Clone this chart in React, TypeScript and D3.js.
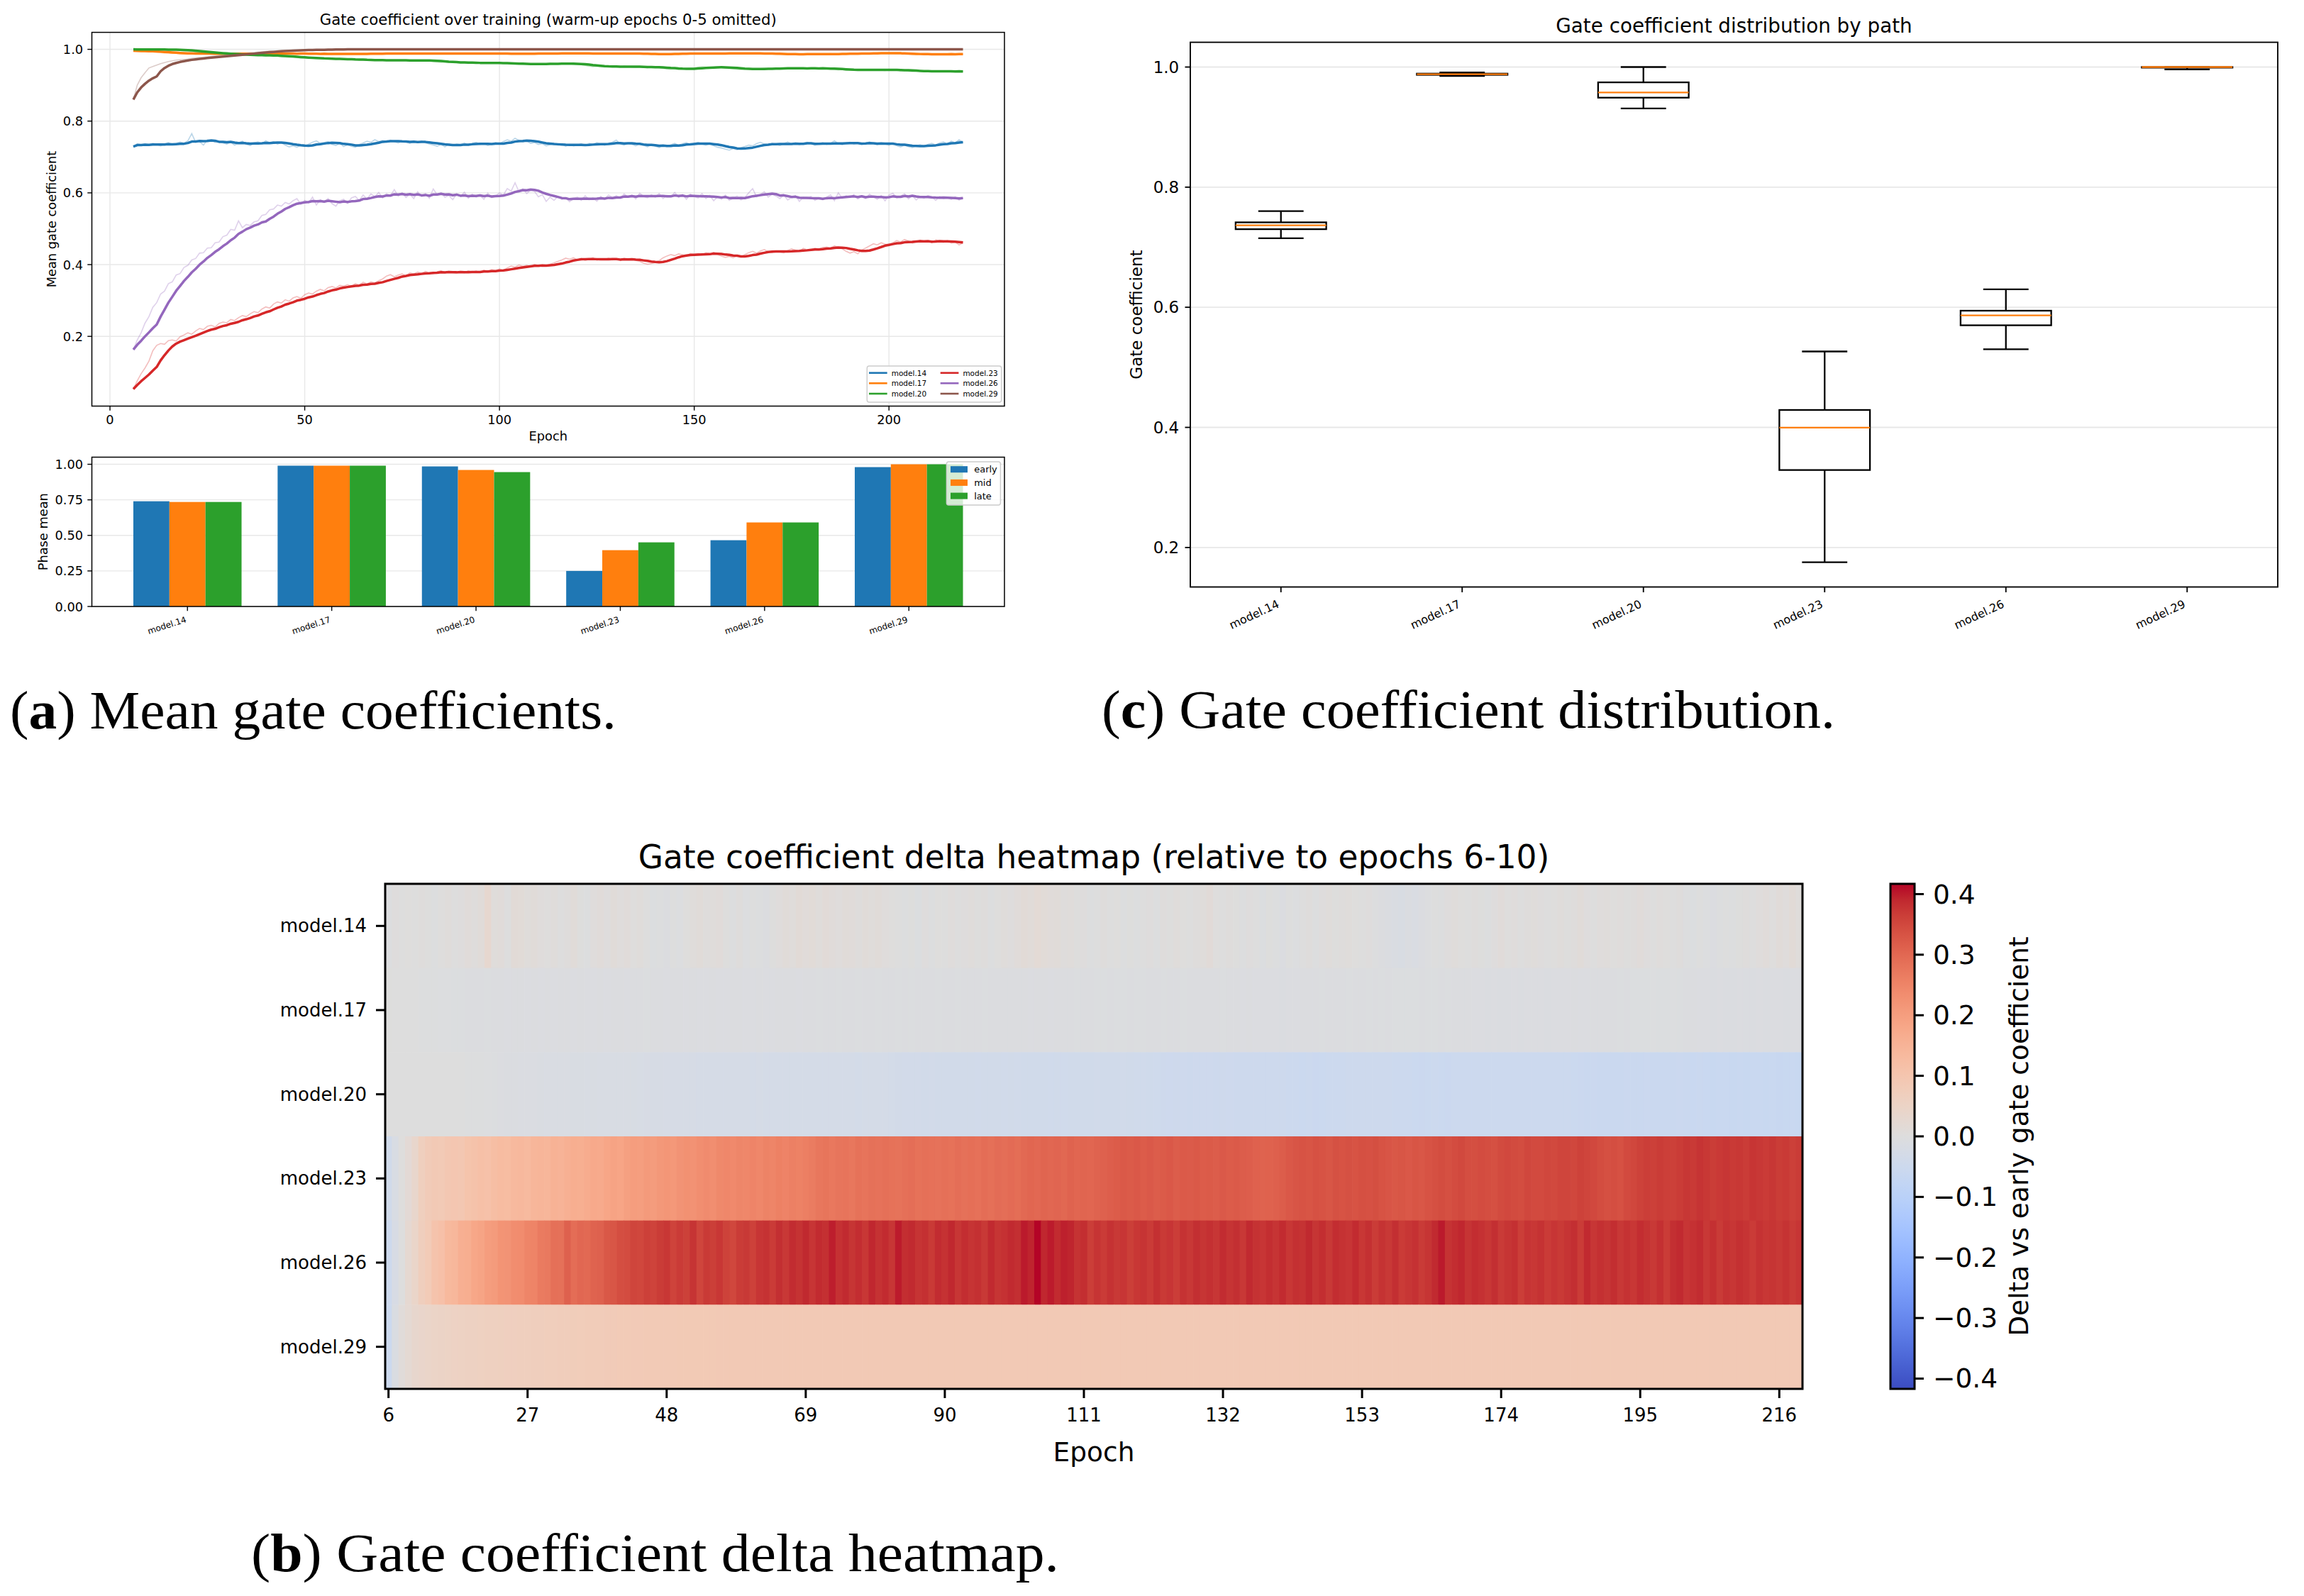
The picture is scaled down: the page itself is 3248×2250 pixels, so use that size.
import React from 'react';
import * as d3 from 'd3';

const FONT = 'DejaVu Sans';
const MODELS = ['model.14', 'model.17', 'model.20', 'model.23', 'model.26', 'model.29'];
const FIRST_EPOCH = 6;
const SMOOTH_WINDOW = 7;
const BASELINE_EPOCHS = 5;

// Raw per-epoch mean gate coefficient, epochs 6..219
const M14 = [
  0.729, 0.737, 0.734, 0.736,
  0.733, 0.738, 0.735, 0.731, 0.736, 0.740, 0.734, 0.737, 0.742, 0.738,
  0.745, 0.765, 0.741, 0.743, 0.733, 0.748, 0.746, 0.741, 0.744, 0.739,
  0.736, 0.741, 0.733, 0.738, 0.744, 0.735, 0.732, 0.739, 0.742, 0.737,
  0.745, 0.739, 0.743, 0.736, 0.740, 0.733, 0.728, 0.731, 0.727, 0.733,
  0.729, 0.736, 0.741, 0.745, 0.738, 0.740, 0.743, 0.735, 0.732, 0.738,
  0.729, 0.734, 0.730, 0.727, 0.735, 0.739, 0.744, 0.741, 0.748, 0.743,
  0.746, 0.741, 0.747, 0.743, 0.739, 0.745, 0.742, 0.738, 0.744, 0.740,
  0.745, 0.739, 0.736, 0.733, 0.730, 0.735, 0.728, 0.737, 0.732, 0.736,
  0.734, 0.739, 0.733, 0.737, 0.741, 0.735, 0.738, 0.732, 0.736, 0.740,
  0.737, 0.743, 0.748, 0.744, 0.752, 0.746, 0.742, 0.745, 0.738, 0.740,
  0.735, 0.737, 0.731, 0.734, 0.738, 0.733, 0.736, 0.730, 0.735, 0.731,
  0.733, 0.737, 0.732, 0.738, 0.735, 0.740, 0.736, 0.733, 0.738, 0.741,
  0.747, 0.736, 0.733, 0.738, 0.735, 0.731, 0.737, 0.733, 0.728, 0.735,
  0.730, 0.726, 0.733, 0.729, 0.734, 0.738, 0.732, 0.737, 0.740, 0.735,
  0.738, 0.741, 0.736, 0.733, 0.737, 0.731, 0.727, 0.725, 0.722, 0.719,
  0.724, 0.720, 0.726, 0.729, 0.733, 0.731, 0.737, 0.741, 0.736, 0.733,
  0.738, 0.735, 0.732, 0.737, 0.742, 0.736, 0.739, 0.734, 0.738, 0.741,
  0.737, 0.733, 0.736, 0.740, 0.735, 0.738, 0.745, 0.737, 0.734, 0.739,
  0.741, 0.736, 0.739, 0.735, 0.738, 0.742, 0.737, 0.734, 0.739, 0.736,
  0.733, 0.738, 0.731, 0.728, 0.733, 0.729, 0.726, 0.731, 0.734, 0.730,
  0.735, 0.738, 0.733, 0.739, 0.742, 0.736, 0.744, 0.739, 0.748, 0.741,
];
const M17 = [
  0.996, 0.995, 0.995, 0.994,
  0.994, 0.993, 0.992, 0.991, 0.990, 0.990, 0.989, 0.989, 0.988, 0.988,
  0.988, 0.989, 0.988, 0.988, 0.987, 0.988, 0.988, 0.987, 0.988, 0.987,
  0.988, 0.987, 0.988, 0.988, 0.987, 0.988, 0.987, 0.987, 0.988, 0.987,
  0.988, 0.988, 0.987, 0.988, 0.988, 0.989, 0.988, 0.988, 0.987, 0.988,
  0.988, 0.987, 0.988, 0.987, 0.987, 0.988, 0.987, 0.987, 0.988, 0.988,
  0.987, 0.987, 0.988, 0.987, 0.987, 0.988, 0.988, 0.988, 0.987, 0.988,
  0.988, 0.989, 0.988, 0.988, 0.989, 0.988, 0.988, 0.989, 0.988, 0.988,
  0.989, 0.988, 0.988, 0.989, 0.988, 0.989, 0.988, 0.988, 0.988, 0.989,
  0.988, 0.988, 0.989, 0.988, 0.988, 0.988, 0.989, 0.988, 0.988, 0.988,
  0.988, 0.988, 0.988, 0.987, 0.988, 0.988, 0.987, 0.988, 0.988, 0.988,
  0.989, 0.988, 0.988, 0.989, 0.989, 0.988, 0.989, 0.989, 0.988, 0.989,
  0.989, 0.988, 0.988, 0.989, 0.988, 0.988, 0.989, 0.988, 0.988, 0.988,
  0.988, 0.988, 0.989, 0.988, 0.988, 0.987, 0.988, 0.987, 0.987, 0.987,
  0.987, 0.986, 0.987, 0.987, 0.988, 0.988, 0.988, 0.989, 0.988, 0.988,
  0.988, 0.989, 0.988, 0.988, 0.989, 0.988, 0.989, 0.988, 0.989, 0.989,
  0.989, 0.989, 0.988, 0.989, 0.989, 0.988, 0.989, 0.988, 0.988, 0.988,
  0.987, 0.987, 0.986, 0.987, 0.986, 0.986, 0.987, 0.986, 0.987, 0.987,
  0.987, 0.986, 0.987, 0.987, 0.987, 0.988, 0.987, 0.987, 0.988, 0.988,
  0.988, 0.988, 0.989, 0.988, 0.989, 0.989, 0.989, 0.990, 0.989, 0.989,
  0.990, 0.989, 0.988, 0.988, 0.987, 0.987, 0.986, 0.987, 0.986, 0.986,
  0.987, 0.986, 0.986, 0.987, 0.986, 0.987, 0.987, 0.986, 0.987, 0.987,
];
const M20 = [
  1.000, 0.999, 1.000, 0.999,
  0.999, 1.000, 0.999, 1.000, 0.999, 0.999, 0.998, 0.998, 0.997, 0.996,
  0.996, 0.995, 0.993, 0.992, 0.991, 0.990, 0.989, 0.989, 0.988, 0.987,
  0.986, 0.986, 0.985, 0.985, 0.984, 0.984, 0.983, 0.984, 0.983, 0.983,
  0.982, 0.983, 0.982, 0.981, 0.980, 0.979, 0.978, 0.978, 0.977, 0.976,
  0.976, 0.975, 0.975, 0.974, 0.974, 0.973, 0.974, 0.973, 0.972, 0.973,
  0.972, 0.971, 0.972, 0.970, 0.971, 0.970, 0.969, 0.970, 0.969, 0.970,
  0.970, 0.969, 0.970, 0.969, 0.969, 0.970, 0.969, 0.968, 0.969, 0.969,
  0.970, 0.969, 0.968, 0.966, 0.965, 0.964, 0.965, 0.963, 0.964, 0.963,
  0.962, 0.963, 0.962, 0.963, 0.962, 0.961, 0.962, 0.963, 0.962, 0.961,
  0.962, 0.961, 0.960, 0.959, 0.960, 0.959, 0.958, 0.959, 0.958, 0.959,
  0.960, 0.959, 0.960, 0.961, 0.960, 0.959, 0.960, 0.961, 0.960, 0.958,
  0.958, 0.957, 0.955, 0.953, 0.952, 0.953, 0.952, 0.951, 0.952, 0.952,
  0.952, 0.951, 0.953, 0.952, 0.951, 0.950, 0.951, 0.950, 0.949, 0.951,
  0.950, 0.949, 0.947, 0.946, 0.945, 0.946, 0.944, 0.945, 0.946, 0.947,
  0.948, 0.950, 0.951, 0.950, 0.949, 0.950, 0.951, 0.949, 0.948, 0.947,
  0.946, 0.945, 0.944, 0.945, 0.946, 0.945, 0.944, 0.946, 0.947, 0.946,
  0.947, 0.948, 0.947, 0.946, 0.948, 0.947, 0.946, 0.947, 0.948, 0.946,
  0.947, 0.948, 0.946, 0.947, 0.946, 0.945, 0.944, 0.943, 0.944, 0.942,
  0.943, 0.942, 0.943, 0.944, 0.942, 0.943, 0.944, 0.943, 0.942, 0.941,
  0.943, 0.944, 0.943, 0.940, 0.941, 0.939, 0.938, 0.939, 0.940, 0.938,
  0.939, 0.938, 0.940, 0.939, 0.938, 0.939, 0.937, 0.938, 0.939, 0.938,
];
const M23 = [
  0.053, 0.076, 0.096, 0.112,
  0.131, 0.160, 0.175, 0.180, 0.178, 0.188, 0.190, 0.187, 0.199, 0.204,
  0.210, 0.206, 0.215, 0.222, 0.219, 0.228, 0.231, 0.226, 0.236, 0.240,
  0.238, 0.247, 0.244, 0.252, 0.258, 0.255, 0.263, 0.269, 0.266, 0.276,
  0.282, 0.279, 0.290, 0.296, 0.293, 0.302, 0.298, 0.307, 0.311, 0.306,
  0.316, 0.321, 0.318, 0.326, 0.331, 0.327, 0.336, 0.339, 0.335, 0.342,
  0.340, 0.344, 0.339, 0.347, 0.343, 0.351, 0.346, 0.352, 0.349, 0.355,
  0.360, 0.368, 0.372, 0.366, 0.371, 0.374, 0.368, 0.377, 0.374, 0.379,
  0.376, 0.381, 0.377, 0.375, 0.380, 0.383, 0.377, 0.381, 0.378, 0.376,
  0.380, 0.377, 0.383, 0.379, 0.382, 0.378, 0.385, 0.381, 0.386, 0.383,
  0.388, 0.384, 0.391, 0.396, 0.393, 0.399, 0.395, 0.398, 0.394, 0.401,
  0.397, 0.399, 0.396, 0.401, 0.405, 0.409, 0.413, 0.418, 0.415, 0.419,
  0.413, 0.417, 0.411, 0.415, 0.419, 0.412, 0.416, 0.414, 0.418, 0.413,
  0.415, 0.411, 0.417, 0.413, 0.416, 0.412, 0.409, 0.404, 0.401, 0.403,
  0.406, 0.411, 0.419, 0.424, 0.428, 0.425, 0.430, 0.427, 0.423, 0.431,
  0.428, 0.431, 0.427, 0.433, 0.430, 0.434, 0.428, 0.424, 0.420, 0.423,
  0.419, 0.425, 0.421, 0.428, 0.433, 0.437, 0.432, 0.438, 0.442, 0.436,
  0.434, 0.438, 0.435, 0.433, 0.439, 0.444, 0.440, 0.437, 0.445, 0.441,
  0.441, 0.446, 0.443, 0.448, 0.449, 0.446, 0.452, 0.448, 0.444, 0.437,
  0.432, 0.436, 0.430, 0.441, 0.446, 0.452, 0.458, 0.455, 0.461, 0.457,
  0.456, 0.461, 0.467, 0.463, 0.470, 0.466, 0.460, 0.464, 0.468, 0.463,
  0.466, 0.461, 0.469, 0.465, 0.462, 0.467, 0.460, 0.463, 0.455, 0.461,
];
const M26 = [
  0.163, 0.190, 0.210, 0.237,
  0.255, 0.281, 0.294, 0.318, 0.326, 0.347, 0.352, 0.371, 0.375, 0.392,
  0.398, 0.413, 0.417, 0.432, 0.433, 0.446, 0.447, 0.461, 0.463, 0.478,
  0.482, 0.498, 0.496, 0.522, 0.503, 0.512, 0.509, 0.519, 0.522, 0.537,
  0.540, 0.553, 0.555, 0.566, 0.563, 0.573, 0.569, 0.578, 0.584, 0.568,
  0.579, 0.572, 0.588, 0.566, 0.581, 0.575, 0.584, 0.570, 0.563, 0.578,
  0.582, 0.571, 0.586, 0.590, 0.579, 0.594, 0.583, 0.597, 0.589, 0.601,
  0.586, 0.598, 0.592, 0.609, 0.591, 0.600, 0.587, 0.596, 0.584, 0.603,
  0.590, 0.598, 0.585, 0.611, 0.595, 0.600, 0.588, 0.593, 0.581, 0.597,
  0.590, 0.602, 0.585, 0.596, 0.588, 0.593, 0.582, 0.599, 0.587, 0.591,
  0.600, 0.594, 0.612, 0.605, 0.628, 0.603, 0.611, 0.598, 0.608, 0.604,
  0.589, 0.595, 0.576, 0.588, 0.579, 0.590, 0.582, 0.586, 0.575, 0.584,
  0.588, 0.579, 0.592, 0.581, 0.586, 0.577, 0.590, 0.583, 0.594, 0.587,
  0.592, 0.585, 0.597, 0.588, 0.594, 0.583, 0.599, 0.590, 0.586, 0.595,
  0.588, 0.598, 0.584, 0.593, 0.589, 0.601, 0.587, 0.595, 0.582, 0.596,
  0.590, 0.586, 0.598, 0.584, 0.593, 0.578, 0.589, 0.582, 0.594, 0.579,
  0.585, 0.591, 0.580, 0.587, 0.600, 0.612, 0.589, 0.596, 0.603, 0.588,
  0.596, 0.591, 0.584, 0.594, 0.580, 0.587, 0.592, 0.576, 0.588, 0.584,
  0.590, 0.579, 0.586, 0.581, 0.588, 0.594, 0.578, 0.600, 0.585, 0.592,
  0.587, 0.595, 0.583, 0.590, 0.584, 0.596, 0.589, 0.582, 0.593, 0.578,
  0.594, 0.599, 0.586, 0.591, 0.597, 0.583, 0.592, 0.580, 0.590, 0.585,
  0.593, 0.588, 0.579, 0.590, 0.584, 0.587, 0.582, 0.589, 0.580, 0.586,
];
const M29 = [
  0.860, 0.900, 0.921, 0.935,
  0.948, 0.952, 0.956, 0.960, 0.963, 0.966, 0.968, 0.970, 0.971, 0.972,
  0.973, 0.975, 0.976, 0.977, 0.978, 0.979, 0.980, 0.981, 0.982, 0.983,
  0.984, 0.985, 0.986, 0.987, 0.988, 0.989, 0.990, 0.991, 0.992, 0.993,
  0.994, 0.995, 0.995, 0.996, 0.996, 0.997, 0.997, 0.998, 0.998, 0.998,
  0.999, 0.999, 0.999, 0.999, 0.999, 0.999, 1.000, 1.000, 1.000, 1.000,
  1.000, 1.000, 1.000, 1.000, 1.000, 1.000, 1.000, 1.000, 1.000, 1.000,
  1.000, 1.000, 1.000, 1.000, 1.000, 1.000, 1.000, 1.000, 1.000, 1.000,
  1.000, 1.000, 1.000, 1.000, 1.000, 1.000, 1.000, 1.000, 1.000, 1.000,
  1.000, 1.000, 1.000, 1.000, 1.000, 1.000, 1.000, 1.000, 1.000, 1.000,
  1.000, 1.000, 1.000, 1.000, 1.000, 1.000, 1.000, 1.000, 1.000, 1.000,
  1.000, 1.000, 1.000, 1.000, 1.000, 1.000, 1.000, 1.000, 1.000, 1.000,
  1.000, 1.000, 1.000, 1.000, 1.000, 1.000, 1.000, 1.000, 1.000, 1.000,
  1.000, 1.000, 1.000, 1.000, 1.000, 1.000, 1.000, 1.000, 1.000, 1.000,
  1.000, 1.000, 1.000, 1.000, 1.000, 1.000, 1.000, 1.000, 1.000, 1.000,
  1.000, 1.000, 1.000, 1.000, 1.000, 1.000, 1.000, 1.000, 1.000, 1.000,
  1.000, 1.000, 1.000, 1.000, 1.000, 1.000, 1.000, 1.000, 1.000, 1.000,
  1.000, 1.000, 1.000, 1.000, 1.000, 1.000, 1.000, 1.000, 1.000, 1.000,
  1.000, 1.000, 1.000, 1.000, 1.000, 1.000, 1.000, 1.000, 1.000, 1.000,
  1.000, 1.000, 1.000, 1.000, 1.000, 1.000, 1.000, 1.000, 1.000, 1.000,
  1.000, 1.000, 1.000, 1.000, 1.000, 1.000, 1.000, 1.000, 1.000, 1.000,
  1.000, 1.000, 1.000, 1.000, 1.000, 1.000, 1.000, 1.000, 1.000, 1.000,
];
const SERIES = [M14, M17, M20, M23, M26, M29];
const COLORS = ['#1f77b4', '#ff7f0e', '#2ca02c', '#d62728', '#9467bd', '#8c564b'];

// Phase means (bar chart)
const PHASES = ['early', 'mid', 'late'];
const PHASE_COLORS = ['#1f77b4', '#ff7f0e', '#2ca02c'];
const PHASE_EARLY = [0.740, 0.990, 0.985, 0.250, 0.466, 0.980];
const PHASE_MID = [0.735, 0.990, 0.960, 0.396, 0.591, 1.000];
const PHASE_LATE = [0.735, 0.990, 0.945, 0.451, 0.591, 1.000];

// Box plot statistics
const BOX_LO = [0.715, 0.985, 0.931, 0.1755, 0.530, 0.996];
const BOX_Q1 = [0.730, 0.987, 0.949, 0.329, 0.570, 0.999];
const BOX_MED = [0.7364, 0.988, 0.9577, 0.3996, 0.5865, 1.000];
const BOX_Q3 = [0.7414, 0.989, 0.9745, 0.429, 0.5943, 1.000];
const BOX_HI = [0.760, 0.991, 1.000, 0.5264, 0.630, 1.000];

const COOLWARM = [
  [59, 76, 192], [68, 90, 204], [77, 104, 215], [87, 117, 225], [98, 130, 234], [108, 142, 241],
  [119, 154, 247], [130, 165, 251], [141, 176, 254], [152, 185, 255], [163, 194, 255], [174, 201, 253],
  [184, 208, 249], [194, 213, 244], [204, 217, 238], [213, 219, 230], [221, 221, 221], [229, 216, 209],
  [236, 211, 197], [241, 204, 185], [245, 196, 173], [247, 187, 160], [247, 177, 148], [247, 166, 135],
  [244, 154, 123], [241, 141, 111], [236, 127, 99], [229, 112, 88], [222, 96, 77], [213, 80, 66],
  [203, 62, 56], [192, 40, 47], [180, 4, 38],
].map((c) => `rgb(${c[0]},${c[1]},${c[2]})`);

function pad(ext: number[], f = 0.05) {
  const d = (ext[1] - ext[0]) * f;
  return [ext[0] - d, ext[1] + d];
}
function rolling(a: number[], w: number) {
  return a.map((_, i) => d3.mean(a.slice(Math.max(0, i - w + 1), i + 1)) as number);
}
const EPOCHS = d3.range(FIRST_EPOCH, FIRST_EPOCH + M14.length);

function RotLabel({ x, y, text, fs, angle }: { x: number; y: number; text: string; fs: number; angle: number }) {
  const s = Math.sin((angle * Math.PI) / 180);
  return (
    <text transform={`translate(${x - 0.95 * fs * s},${y}) rotate(${-angle})`} textAnchor="end" dominantBaseline="hanging" fontSize={fs}>
      {text}
    </text>
  );
}

function LinePanel() {
  const L = 129.5, R = 1416, T = 45.6, B = 572.5;
  const x = d3.scaleLinear().domain(pad(d3.extent(EPOCHS) as number[])).range([L, R]);
  const y = d3.scaleLinear().domain(pad(d3.extent(SERIES.flat()) as number[])).range([B, T]);
  const line = d3.line<number>().x((_, i) => x(EPOCHS[i])).y((v) => y(v));
  const fs = 17.8, tk = 6.2;
  const fmt = d3.format('.1f');
  const legCols = [1225, 1325.7];
  const legRows = [525.7, 540.3, 555];
  return (
    <g>
      {x.ticks(5).map((t) => (
        <line key={'gx' + t} x1={x(t)} x2={x(t)} y1={T} y2={B} stroke="#e8e8e8" strokeWidth={1.4} />
      ))}
      {y.ticks(5).map((t) => (
        <line key={'gy' + t} x1={L} x2={R} y1={y(t)} y2={y(t)} stroke="#e8e8e8" strokeWidth={1.4} />
      ))}
      {SERIES.map((s, k) => (
        <g key={k}>
          <path d={line(s) as string} fill="none" stroke={COLORS[k]} strokeOpacity={0.3} strokeWidth={1.6} />
          <path d={line(rolling(s, SMOOTH_WINDOW)) as string} fill="none" stroke={COLORS[k]} strokeWidth={3.5} strokeLinejoin="round" />
        </g>
      ))}
      <rect x={L} y={T} width={R - L} height={B - T} fill="none" stroke="#000" strokeWidth={1.5} />
      {x.ticks(5).map((t) => (
        <g key={'xt' + t}>
          <line x1={x(t)} x2={x(t)} y1={B} y2={B + tk} stroke="#000" strokeWidth={1.4} />
          <text x={x(t)} y={B + 2 * tk + 13.3} textAnchor="middle" fontSize={fs}>{t}</text>
        </g>
      ))}
      {y.ticks(5).map((t) => (
        <g key={'yt' + t}>
          <line x1={L - tk} x2={L} y1={y(t)} y2={y(t)} stroke="#000" strokeWidth={1.4} />
          <text x={L - 2 * tk} y={y(t)} textAnchor="end" dominantBaseline="central" fontSize={fs}>{fmt(t)}</text>
        </g>
      ))}
      <text x={(L + R) / 2} y={T - 10.7} textAnchor="middle" fontSize={21.3}>
        Gate coefficient over training (warm-up epochs 0-5 omitted)
      </text>
      <text x={(L + R) / 2} y={621} textAnchor="middle" fontSize={fs}>Epoch</text>
      <text transform={`translate(72,${(T + B) / 2}) rotate(-90)`} textAnchor="middle" dominantBaseline="central" fontSize={fs}>
        Mean gate coefficient
      </text>
      <rect x={1222.3} y={516} width={189.4} height={51} rx={3} fill="#fff" fillOpacity={0.8} stroke="#cccccc" strokeWidth={1.4} />
      {MODELS.map((m, k) => {
        const cx = legCols[Math.floor(k / 3)];
        const cy = legRows[k % 3];
        return (
          <g key={m}>
            <line x1={cx} x2={cx + 25.7} y1={cy} y2={cy} stroke={COLORS[k]} strokeWidth={2.6} />
            <text x={cx + 31.7} y={cy} dominantBaseline="central" fontSize={10.5}>{m}</text>
          </g>
        );
      })}
    </g>
  );
}

function BarPanel() {
  const L = 129.5, R = 1416, T = 644.5, B = 855;
  const bw = 0.25;
  const phases = [PHASE_EARLY, PHASE_MID, PHASE_LATE];
  const x = d3.scaleLinear().domain(pad([-1.5 * bw, MODELS.length - 1 + 1.5 * bw])).range([L, R]);
  const vmax = d3.max(phases.flat()) as number;
  const y = d3.scaleLinear().domain([0, vmax * 1.05]).range([B, T]);
  const yt = d3.range(0, 1.0001, 0.25);
  const fs = 17.8, tk = 6.2;
  const fmt = d3.format('.2f');
  return (
    <g>
      {yt.map((t) => (
        <line key={'g' + t} x1={L} x2={R} y1={y(t)} y2={y(t)} stroke="#e8e8e8" strokeWidth={1.4} />
      ))}
      {phases.map((vals, j) =>
        vals.map((v, i) => (
          <rect key={j + '-' + i} x={x(i + (j - 1) * bw - bw / 2)} width={x(bw) - x(0)} y={y(v)} height={y(0) - y(v)} fill={PHASE_COLORS[j]} />
        ))
      )}
      <rect x={L} y={T} width={R - L} height={B - T} fill="none" stroke="#000" strokeWidth={1.5} />
      {yt.map((t) => (
        <g key={'yt' + t}>
          <line x1={L - tk} x2={L} y1={y(t)} y2={y(t)} stroke="#000" strokeWidth={1.4} />
          <text x={L - 2 * tk} y={y(t)} textAnchor="end" dominantBaseline="central" fontSize={fs}>{fmt(t)}</text>
        </g>
      ))}
      {MODELS.map((m, i) => (
        <g key={m}>
          <line x1={x(i)} x2={x(i)} y1={B} y2={B + tk} stroke="#000" strokeWidth={1.4} />
          <RotLabel x={x(i)} y={B + 2 * tk + 1} text={m} fs={12} angle={18} />
        </g>
      ))}
      <text transform={`translate(60,${(T + B) / 2}) rotate(-90)`} textAnchor="middle" dominantBaseline="central" fontSize={fs}>
        Phase mean
      </text>
      <rect x={1334.4} y={651} width={76} height={61} rx={3} fill="#fff" fillOpacity={0.8} stroke="#cccccc" strokeWidth={1.4} />
      {PHASES.map((p, j) => {
        const cy = 661.7 + j * 18.7;
        return (
          <g key={p}>
            <rect x={1340} y={cy - 4.5} width={24} height={9} fill={PHASE_COLORS[j]} />
            <text x={1373.2} y={cy} dominantBaseline="central" fontSize={13}>{p}</text>
          </g>
        );
      })}
    </g>
  );
}

function BoxPanel() {
  const L = 1678, R = 3211, T = 59.6, B = 827.5;
  const x = d3.scaleLinear().domain([0.5, MODELS.length + 0.5]).range([L, R]);
  const y = d3.scaleLinear().domain(pad([d3.min(BOX_LO) as number, d3.max(BOX_HI) as number])).range([B, T]);
  const fs = 23, tk = 7.5, lw = 2.3;
  const fmt = d3.format('.1f');
  return (
    <g>
      {y.ticks(5).map((t) => (
        <line key={'g' + t} x1={L} x2={R} y1={y(t)} y2={y(t)} stroke="#e8e8e8" strokeWidth={1.85} />
      ))}
      {MODELS.map((m, i) => {
        const p = i + 1;
        return (
          <g key={m} stroke="#000" strokeWidth={lw} fill="none">
            <line x1={x(p)} x2={x(p)} y1={y(BOX_Q1[i])} y2={y(BOX_LO[i])} />
            <line x1={x(p)} x2={x(p)} y1={y(BOX_Q3[i])} y2={y(BOX_HI[i])} />
            <line x1={x(p - 0.125)} x2={x(p + 0.125)} y1={y(BOX_LO[i])} y2={y(BOX_LO[i])} />
            <line x1={x(p - 0.125)} x2={x(p + 0.125)} y1={y(BOX_HI[i])} y2={y(BOX_HI[i])} />
            <rect x={x(p - 0.25)} width={x(p + 0.25) - x(p - 0.25)} y={y(BOX_Q3[i])} height={y(BOX_Q1[i]) - y(BOX_Q3[i])} />
            <line x1={x(p - 0.25)} x2={x(p + 0.25)} y1={y(BOX_MED[i])} y2={y(BOX_MED[i])} stroke="#ff7f0e" />
          </g>
        );
      })}
      <rect x={L} y={T} width={R - L} height={B - T} fill="none" stroke="#000" strokeWidth={1.85} />
      {y.ticks(5).map((t) => (
        <g key={'yt' + t}>
          <line x1={L - tk} x2={L} y1={y(t)} y2={y(t)} stroke="#000" strokeWidth={1.85} />
          <text x={L - 2.1 * tk} y={y(t)} textAnchor="end" dominantBaseline="central" fontSize={fs}>{fmt(t)}</text>
        </g>
      ))}
      {MODELS.map((m, i) => (
        <g key={m}>
          <line x1={x(i + 1)} x2={x(i + 1)} y1={B} y2={B + tk} stroke="#000" strokeWidth={1.85} />
          <RotLabel x={x(i + 1)} y={B + 2 * tk + 2} text={m} fs={16} angle={25} />
        </g>
      ))}
      <text x={(L + R) / 2} y={T - 13.8} textAnchor="middle" fontSize={27.8}>Gate coefficient distribution by path</text>
      <text transform={`translate(1602,${(T + B) / 2}) rotate(-90)`} textAnchor="middle" dominantBaseline="central" fontSize={fs}>
        Gate coefficient
      </text>
    </g>
  );
}

function HeatPanel() {
  const L = 543, R = 2541, T = 1246, B = 1958;
  const x = d3.scaleBand<number>().domain(EPOCHS).range([L, R]);
  const y = d3.scaleBand<string>().domain(MODELS).range([T, B]);
  const deltas = SERIES.map((s) => {
    const base = d3.mean(s.slice(0, BASELINE_EPOCHS)) as number;
    return s.map((v) => v - base);
  });
  const vmax = d3.max(deltas.flat(), (d) => Math.abs(d)) as number;
  const color = d3
    .scaleLinear<string>()
    .domain(COOLWARM.map((_, i) => -vmax + (2 * vmax * i) / (COOLWARM.length - 1)))
    .range(COOLWARM)
    .clamp(true);
  const CL = 2665, CR = 2699;
  const yc = d3.scaleLinear().domain([-vmax, vmax]).range([B, T]);
  const cTicks = d3.range(-4, 5).map((i) => i / 10);
  const fmt = d3.format('.1f');
  const tk = 13, lw = 3;
  const xTicks = EPOCHS.filter((e) => (e - FIRST_EPOCH) % 21 === 0);
  return (
    <g>
      <defs>
        <linearGradient id="cwgrad" x1="0" y1="1" x2="0" y2="0">
          {COOLWARM.map((c, i) => (
            <stop key={i} offset={i / (COOLWARM.length - 1)} stopColor={c} />
          ))}
        </linearGradient>
      </defs>
      {deltas.map((row, r) =>
        row.map((d, c) => (
          <rect key={r + '-' + c} x={x(EPOCHS[c]) as number} y={y(MODELS[r]) as number} width={x.bandwidth() + 0.7} height={y.bandwidth() + 0.5} fill={color(d)} />
        ))
      )}
      <rect x={L} y={T} width={R - L} height={B - T} fill="none" stroke="#000" strokeWidth={lw} />
      {MODELS.map((m) => {
        const cy = (y(m) as number) + y.bandwidth() / 2;
        return (
          <g key={m}>
            <line x1={L - tk} x2={L} y1={cy} y2={cy} stroke="#000" strokeWidth={lw} />
            <text x={L - 2 * tk} y={cy} textAnchor="end" dominantBaseline="central" fontSize={26}>{m}</text>
          </g>
        );
      })}
      {xTicks.map((e) => {
        const cx = (x(e) as number) + x.bandwidth() / 2;
        return (
          <g key={e}>
            <line x1={cx} x2={cx} y1={B} y2={B + tk} stroke="#000" strokeWidth={lw} />
            <text x={cx} y={B + 2 * tk + 20} textAnchor="middle" fontSize={26}>{e}</text>
          </g>
        );
      })}
      <text x={(L + R) / 2} y={T - 22.5} textAnchor="middle" fontSize={45.5}>
        Gate coefficient delta heatmap (relative to epochs 6-10)
      </text>
      <text x={(L + R) / 2} y={2060} textAnchor="middle" fontSize={37.5}>Epoch</text>
      <rect x={CL} y={T} width={CR - CL} height={B - T} fill="url(#cwgrad)" stroke="#000" strokeWidth={lw} />
      {cTicks.map((t) => (
        <g key={t}>
          <line x1={CR} x2={CR + tk} y1={yc(t)} y2={yc(t)} stroke="#000" strokeWidth={lw} />
          <text x={CR + 2 * tk} y={yc(t)} dominantBaseline="central" fontSize={37.5}>{fmt(t)}</text>
        </g>
      ))}
      <text transform={`translate(2846,${(T + B) / 2}) rotate(-90)`} textAnchor="middle" dominantBaseline="central" fontSize={37.5}>
        Delta vs early gate coefficient
      </text>
    </g>
  );
}

function Caption({ x, y, len, tag, text }: { x: number; y: number; len: number; tag: string; text: string }) {
  return (
    <text x={x} y={y} fontSize={76} fontFamily="Liberation Serif" textLength={len} lengthAdjust="spacingAndGlyphs">
      (<tspan fontWeight="bold">{tag}</tspan>) {text}
    </text>
  );
}

export default function App() {
  return (
    <svg width={3248} height={2250} style={{ position: 'absolute', left: 0, top: 0, background: '#fff' }} fontFamily={FONT}>
      <rect width={3248} height={2250} fill="#fff" />
      <LinePanel />
      <BarPanel />
      <BoxPanel />
      <HeatPanel />
      <Caption x={14} y={1027} len={855} tag="a" text="Mean gate coefficients." />
      <Caption x={1553} y={1026} len={1034} tag="c" text="Gate coefficient distribution." />
      <Caption x={354} y={2215} len={1139} tag="b" text="Gate coefficient delta heatmap." />
    </svg>
  );
}
